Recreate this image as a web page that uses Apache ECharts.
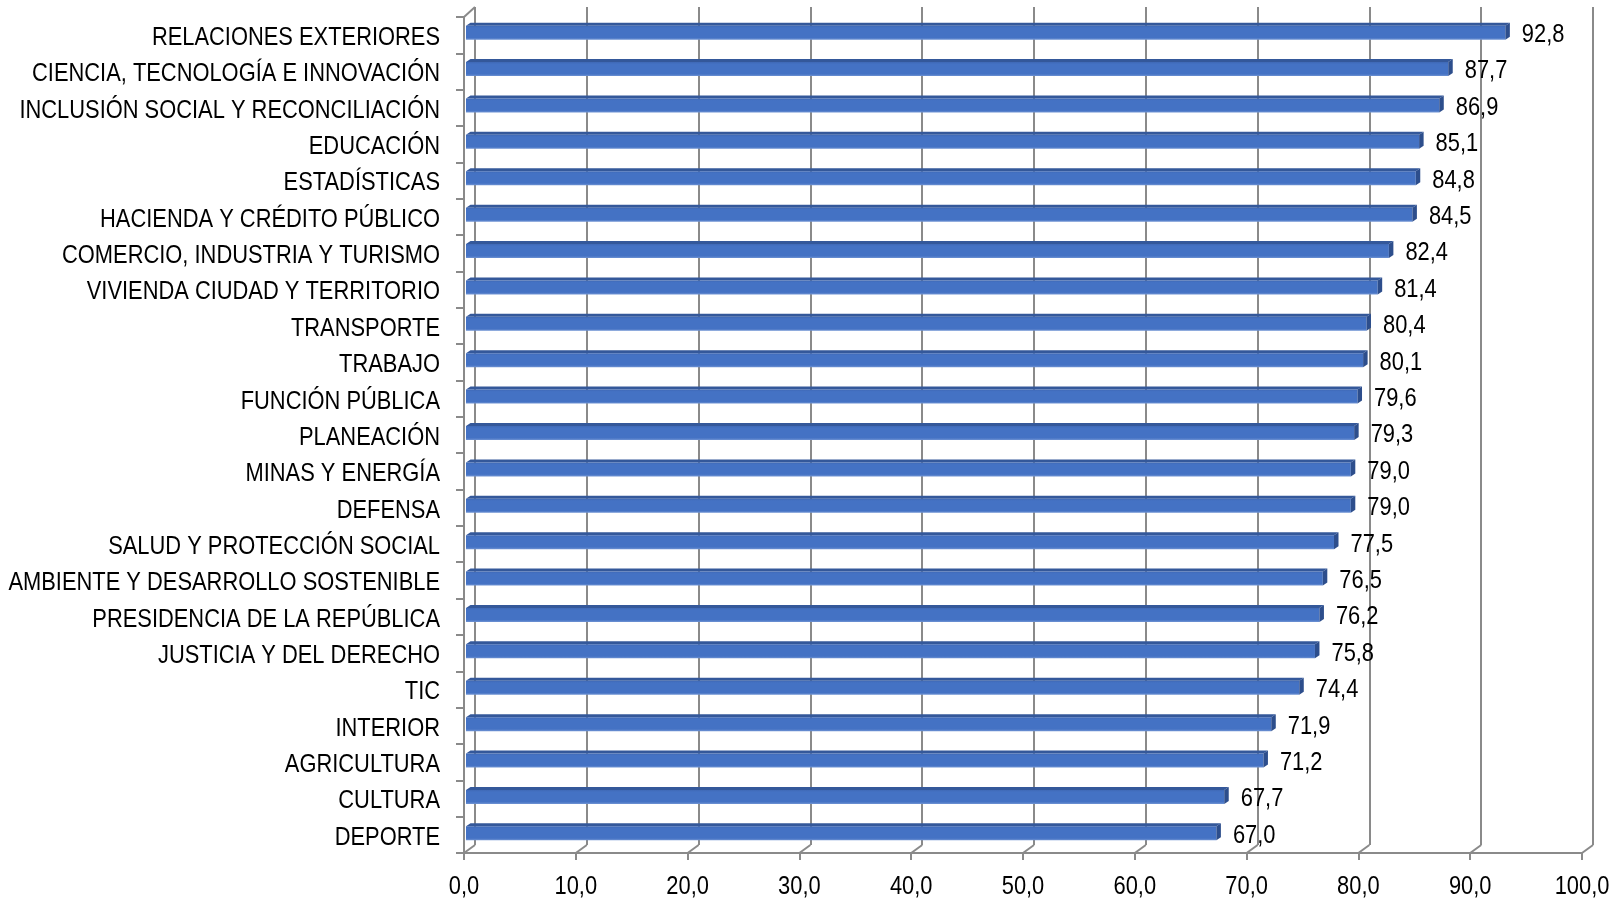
<!DOCTYPE html>
<html>
<head>
<meta charset="utf-8">
<script src="https://cdn.jsdelivr.net/npm/echarts@6/dist/echarts.min.js"></script>
<style>
html,body{margin:0;padding:0;background:#fff;}
#chart{width:1612px;height:898px;}
</style>
</head>
<body>
<div id="chart"></div>
<script>
var categories = [
  'RELACIONES EXTERIORES',
  'CIENCIA, TECNOLOGÍA E INNOVACIÓN',
  'INCLUSIÓN SOCIAL Y RECONCILIACIÓN',
  'EDUCACIÓN',
  'ESTADÍSTICAS',
  'HACIENDA Y CRÉDITO PÚBLICO',
  'COMERCIO, INDUSTRIA Y TURISMO',
  'VIVIENDA CIUDAD Y TERRITORIO',
  'TRANSPORTE',
  'TRABAJO',
  'FUNCIÓN PÚBLICA',
  'PLANEACIÓN',
  'MINAS Y ENERGÍA',
  'DEFENSA',
  'SALUD Y PROTECCIÓN SOCIAL',
  'AMBIENTE Y DESARROLLO SOSTENIBLE',
  'PRESIDENCIA DE LA REPÚBLICA',
  'JUSTICIA Y DEL DERECHO',
  'TIC',
  'INTERIOR',
  'AGRICULTURA',
  'CULTURA',
  'DEPORTE'
];
var values = [92.8, 87.7, 86.9, 85.1, 84.8, 84.5, 82.4, 81.4, 80.4, 80.1, 79.6, 79.3, 79.0, 79.0, 77.5, 76.5, 76.2, 75.8, 74.4, 71.9, 71.2, 67.7, 67.0];
var xTicks = [0, 10, 20, 30, 40, 50, 60, 70, 80, 90, 100];

var FONT = '"Liberation Sans", Arial, sans-serif';
var TXT = '25px ' + FONT;
var NARROW = 0.875;
var GRAY = '#8a8a8a';
function fmt(v){ return Number(v).toFixed(1).replace('.', ','); }

var chart = echarts.init(document.getElementById('chart'), null, {renderer:'canvas'});

var barData = values.map(function(v, i){ return [v, i]; });
var catData = categories.map(function(c, i){ return [0, i]; });
var tickData = xTicks.map(function(t){ return [t, 0]; });

function narrowText(x, y, text, align){
  return {type: 'text', x: x, y: y, scaleX: NARROW, scaleY: 1,
          style: {text: text, x: 0, y: 0, fill: '#000', font: TXT, align: align, verticalAlign: 'middle'}};
}

var option = {
  backgroundColor: '#ffffff',
  animation: false,
  grid: [
    {left: 475, right: 19, top: 7, bottom: 53, outerBoundsMode: 'none', containLabel: false},   // back wall
    {left: 464, right: 30, top: 17, bottom: 45, outerBoundsMode: 'none', containLabel: false},  // front axes
    {left: 466, right: 26, top: 13, bottom: 48, outerBoundsMode: 'none', containLabel: false}   // bars
  ],
  xAxis: [
    {gridIndex: 0, type: 'value', min: 0, max: 100, interval: 10,
     axisLine: {show: false}, axisTick: {show: false}, axisLabel: {show: false},
     splitLine: {show: true, lineStyle: {color: GRAY, width: 2}}},
    {gridIndex: 1, type: 'value', min: 0, max: 100, interval: 10,
     axisLine: {show: true, lineStyle: {color: GRAY, width: 2}},
     axisTick: {show: true, inside: false, length: 7, lineStyle: {color: GRAY, width: 2}},
     axisLabel: {show: false},
     splitLine: {show: false}},
    {gridIndex: 2, type: 'value', min: 0, max: 100, show: false}
  ],
  yAxis: [
    {gridIndex: 0, type: 'category', data: categories, inverse: true, show: false},
    {gridIndex: 1, type: 'category', data: categories, inverse: true,
     axisLine: {show: true, lineStyle: {color: GRAY, width: 2}},
     axisTick: {show: true, inside: false, length: 8, lineStyle: {color: GRAY, width: 2}},
     axisLabel: {show: false},
     splitLine: {show: false}},
    {gridIndex: 2, type: 'category', data: categories, inverse: true, show: false}
  ],
  series: [
    {
      type: 'custom', name: 'floor',
      xAxisIndex: 1, yAxisIndex: 1, silent: true, clip: false,
      data: tickData,
      renderItem: function(params, api){
        var cs = params.coordSys;
        var t = api.value(0);
        var x = api.coord([t, 0])[0];
        var yb = cs.y + cs.height;
        var children = [
          {type: 'line', shape: {x1: x, y1: yb, x2: x + 11, y2: yb - 8}, style: {stroke: GRAY, lineWidth: 2}},
          narrowText(x, yb + 34, fmt(t), 'center')
        ];
        if (params.dataIndex === 0) {
          children.push({type: 'line', shape: {x1: x, y1: cs.y, x2: x + 11, y2: cs.y - 10},
                         style: {stroke: GRAY, lineWidth: 2}});
        }
        return {type: 'group', children: children};
      }
    },
    {
      type: 'custom', name: 'categoryLabels',
      xAxisIndex: 1, yAxisIndex: 1, silent: true, clip: false,
      data: catData,
      renderItem: function(params, api){
        var cs = params.coordSys;
        var idx = api.value(1);
        var y = api.coord([0, idx])[1];
        return narrowText(cs.x - 24, y + 3, categories[idx], 'right');
      }
    },
    {
      type: 'custom', name: 'bars',
      xAxisIndex: 2, yAxisIndex: 2, clip: false,
      data: barData,
      renderItem: function(params, api){
        var v = api.value(0);
        var idx = api.value(1);
        var end = api.coord([v, idx]);
        var start = api.coord([0, idx]);
        var cy = end[1];
        var x0 = start[0], x1 = end[0];
        var dx = 4.5, dy = 3;
        var fTop = cy - 5.5, fBot = cy + 8.5;
        return {
          type: 'group',
          children: [
            {type: 'polygon', shape: {points: [[x0, fTop], [x1, fTop], [x1 + dx, fTop - dy], [x0 + dx, fTop - dy]]},
             style: {fill: '#34589a'}},
            {type: 'rect', shape: {x: x0, y: fTop, width: x1 - x0, height: fBot - fTop},
             style: {fill: new echarts.graphic.LinearGradient(0, 0, 0, 1, [
               {offset: 0, color: '#3f69b6'}, {offset: 0.15, color: '#4472c4'},
               {offset: 0.85, color: '#4472c4'}, {offset: 1, color: '#6f93d3'}])}},
            {type: 'polygon', shape: {points: [[x1, fTop], [x1 + dx, fTop - dy], [x1 + dx, fBot - dy], [x1, fBot]]},
             style: {fill: '#2d4e8c'}},
            narrowText(x1 + dx + 12, cy + 4, fmt(v), 'left')
          ]
        };
      }
    }
  ]
};
chart.setOption(option);
</script>
</body>
</html>
